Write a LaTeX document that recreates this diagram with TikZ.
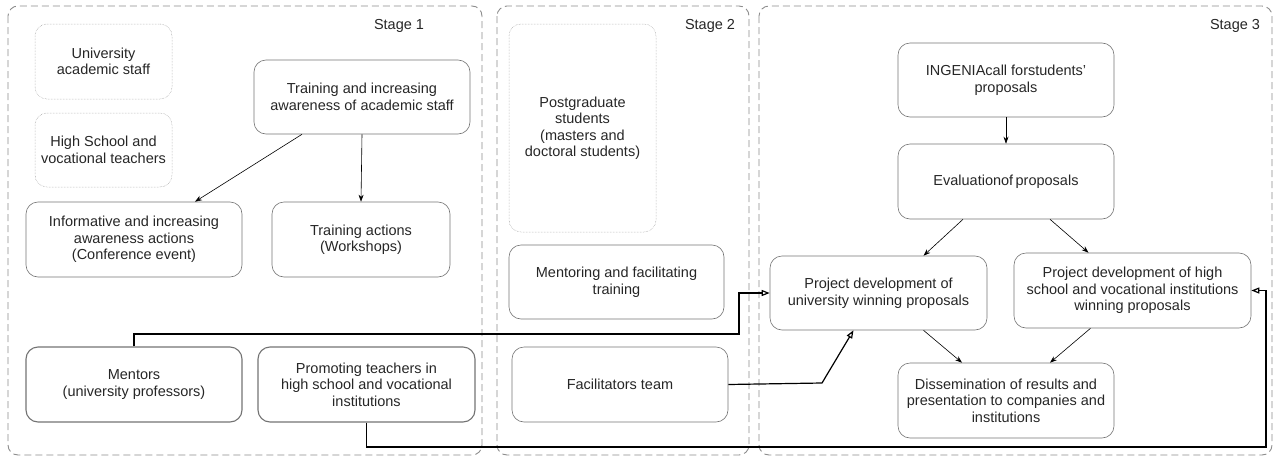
\documentclass[tikz,border=0pt]{standalone}
\usepackage{fontspec}
\setmainfont{Liberation Sans}
\usetikzlibrary{arrows.meta}

\begin{document}
\begin{tikzpicture}[x=1pt,y=1pt,
  every node/.style={font=\fontsize{14.5}{16.5}\selectfont, text=black!85, align=center, inner sep=0pt},
  stagebox/.style={draw=black!45, dash pattern=on 7pt off 4pt, line width=0.9pt, rounded corners=10pt},
  actbox/.style={draw=black!55, line width=0.6pt, rounded corners=12pt},
  groupbox/.style={draw=black!40, densely dotted, line width=0.5pt, rounded corners=12pt},
  peoplebox/.style={draw=black!55, line width=1.1pt, rounded corners=12pt},
  flow/.style={black, line width=0.6pt, -{Stealth[length=7pt,width=5pt]}},
  link/.style={black, line width=1.2pt, -{Triangle[open,length=8pt,width=6pt]}}]
\useasboundingbox (0,0) rectangle (1275,-458);
\draw [stagebox] (8,-6) rectangle (482,-455);
\draw [stagebox] (497,-6) rectangle (749,-455);
\draw [stagebox] (759,-6) rectangle (1272,-455);
\node (st1) at (399,-26) {Stage 1};
\node (st2) at (710,-26) {Stage 2};
\node (st3) at (1235,-26) {Stage 3};
\node [groupbox, minimum width=137, minimum height=75] (uni) at (103.5,-61.5) {University\\academic staff};
\node [groupbox, minimum width=137, minimum height=74] (hsch) at (103.5,-150) {High School and\\vocational teachers};
\node [actbox, minimum width=216, minimum height=74] (trainAw) at (362,-97) {Training and increasing\\awareness of academic staff};
\node [actbox, minimum width=216, minimum height=75] (inform) at (134,-239.5) {Informative and increasing\\awareness actions\\(Conference event)};
\node [actbox, minimum width=178, minimum height=75] (trAct) at (361,-239.5) {Training actions\\(Workshops)};
\node [peoplebox, minimum width=216, minimum height=75] (ment) at (134,-384.5) {Mentors\\(university professors)};
\node [peoplebox, minimum width=217, minimum height=75] (promo) at (366.5,-384.5) {Promoting teachers in\\high school and vocational\\institutions};
\node [groupbox, minimum width=147, minimum height=208] (postg) at (582.5,-128) {Postgraduate\\students\\(masters and\\doctoral students)};
\node [actbox, minimum width=215, minimum height=74] (mentf) at (616.5,-282) {Mentoring and facilitating\\training};
\node [actbox, minimum width=216, minimum height=75] (facil) at (620,-384.5) {Facilitators team};
\node [actbox, minimum width=216, minimum height=74] (call) at (1006,-80) {INGENIAcall forstudents'\\proposals};
\node [actbox, minimum width=216, minimum height=75] (eval) at (1006,-181.5) {Evaluationof\,proposals};
\node [actbox, minimum width=217, minimum height=74] (projU) at (878.5,-293) {Project development of\\university winning proposals};
\node [actbox, minimum width=237, minimum height=75] (projH) at (1132.5,-290.5) {Project development of high\\school and vocational institutions\\winning proposals};
\node [actbox, minimum width=216, minimum height=75] (diss) at (1006,-400.5) {Dissemination of results and\\presentation to companies and\\institutions};
\draw [flow] ([xshift=-60pt]trainAw.south) -- ([xshift=61pt]inform.north);
\draw [flow] (trainAw.south) -- (trAct.north);
\draw [flow] (call.south) -- (eval.north);
\draw [flow] ([xshift=-43pt]eval.south) -- ([xshift=45pt]projU.north);
\draw [flow] ([xshift=44pt]eval.south) -- ([xshift=-44pt]projH.north);
\draw [flow] ([xshift=45pt]projU.south) -- ([xshift=-44pt]diss.north);
\draw [flow] ([xshift=-42pt]projH.south) -- ([xshift=44pt]diss.north);
\draw [link] (ment.north) |- (739,-334) |- (projU.west);
\draw [link] (promo.south) |- (1266,-447) |- (projH.east);
\draw [link] (facil.east) -- (822,-383) -- ([xshift=-25pt]projU.south);
\end{tikzpicture}
\end{document}
